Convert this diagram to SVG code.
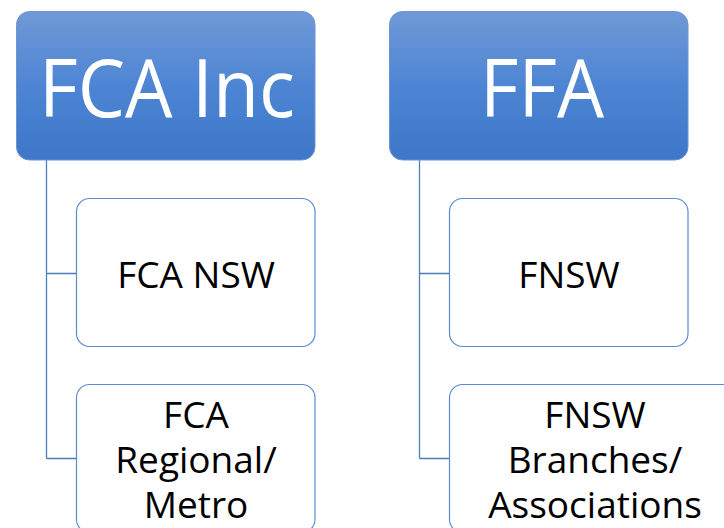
<svg xmlns="http://www.w3.org/2000/svg" width="724" height="528" viewBox="0 0 724 528">
<defs>
<linearGradient id="g" x1="0" y1="0" x2="0" y2="1">
<stop offset="0" stop-color="#7099d6"/>
<stop offset="0.5" stop-color="#4d85d4"/>
<stop offset="1" stop-color="#3e77c8"/>
</linearGradient>
</defs>
<style>
.top{fill:url(#g);stroke:#6f95d0;stroke-width:1}
.child{fill:#fff;stroke:#5b8bd0;stroke-width:1.2}
.conn{fill:none;stroke:#4a7ebb;stroke-width:1.3}
.tt{font-family:"Open Sans","Liberation Sans",sans-serif;fill:#fff;font-size:80px;text-anchor:middle}
.ct{font-family:"Open Sans","Liberation Sans",sans-serif;fill:#000;font-size:37px;text-anchor:middle}
</style>
<rect width="724" height="528" fill="#fff"/>
<g id="connectors">
<path class="conn" d="M46.5 160 V458.5 M46.5 273.5 H77 M46.5 458.5 H77"/>
<path class="conn" d="M419.5 160 V458.5 M419.5 273.5 H449 M419.5 458.5 H449"/>
</g>
<g id="fca-inc">
<rect class="top" x="16.5" y="11.5" width="298.5" height="148.5" rx="13"/>
<text class="tt" x="167" y="117" textLength="256" lengthAdjust="spacingAndGlyphs">FCA Inc</text>
</g>
<g id="ffa">
<rect class="top" x="389.5" y="11.5" width="298.5" height="148.5" rx="13"/>
<text class="tt" x="542" y="117" textLength="124" lengthAdjust="spacingAndGlyphs">FFA</text>
</g>
<g id="fca-nsw">
<rect class="child" x="76.5" y="198.5" width="238.5" height="148" rx="13"/>
<text class="ct" x="196" y="288">FCA NSW</text>
</g>
<g id="fca-regional">
<rect class="child" x="76.5" y="384.5" width="238.5" height="148" rx="13"/>
<text class="ct" x="196" y="428">FCA</text>
<text class="ct" x="196" y="473">Regional/</text>
<text class="ct" x="196" y="518">Metro</text>
</g>
<g id="fnsw">
<rect class="child" x="449.5" y="198.5" width="238.5" height="148" rx="13"/>
<text class="ct" x="569" y="288">FNSW</text>
</g>
<g id="fnsw-branches">
<rect class="child" x="449.5" y="384.5" width="292" height="148" rx="13"/>
<text class="ct" x="595" y="428">FNSW</text>
<text class="ct" x="595" y="473">Branches/</text>
<text class="ct" x="595" y="518">Associations</text>
</g>
</svg>
